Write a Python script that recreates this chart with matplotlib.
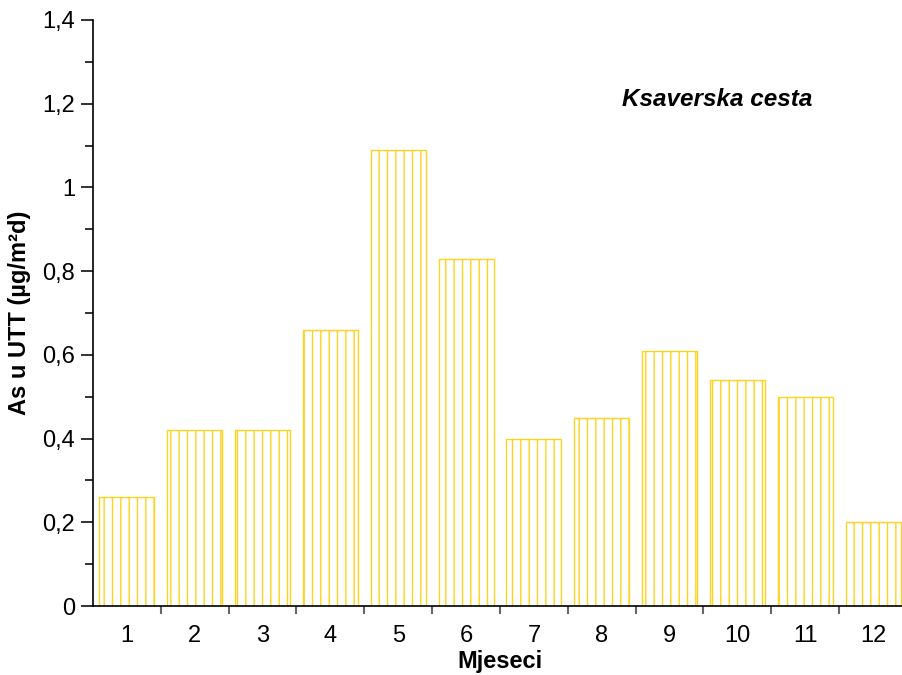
import matplotlib.pyplot as plt
from matplotlib.ticker import MultipleLocator, FixedLocator, FuncFormatter

plt.rcParams['font.family'] = ['Liberation Sans', 'DejaVu Sans']
plt.rcParams['hatch.linewidth'] = 1.0

months = [1, 2, 3, 4, 5, 6, 7, 8, 9, 10, 11, 12]
values = [0.26, 0.42, 0.42, 0.66, 1.09, 0.83, 0.40, 0.45, 0.61, 0.54, 0.50, 0.20]
y_ticks = [0, 0.2, 0.4, 0.6, 0.8, 1.0, 1.2, 1.4]

bar_color = '#FFD21F'

fig = plt.figure(figsize=(9.02, 6.75), dpi=100)
ax = fig.add_axes([0.1031, 0.1022, 0.9024, 0.8682])

ax.bar(months, values, width=0.81, color='white', edgecolor=bar_color,
       hatch='||', linewidth=1.0)

ax.set_xlim(0.5, 12.5)
ax.set_ylim(0, 1.4)

ax.spines['top'].set_visible(False)
ax.spines['right'].set_visible(False)
ax.spines['left'].set_linewidth(1.2)
ax.spines['bottom'].set_linewidth(1.2)

# y axis: comma decimals
def fmt(v, pos):
    s = ('%.1f' % v).rstrip('0').rstrip('.')
    return s.replace('.', ',')

ax.yaxis.set_major_locator(FixedLocator(y_ticks))
ax.yaxis.set_minor_locator(MultipleLocator(0.1))
ax.yaxis.set_major_formatter(FuncFormatter(fmt))
ax.tick_params(axis='y', which='major', length=9, width=1.3, color='#222222',
               labelsize=17, pad=4)
ax.tick_params(axis='y', which='minor', length=6, width=1.3, color='#222222')

# x axis: labels at centres, ticks between categories
ax.xaxis.set_major_locator(FixedLocator(months))
ax.xaxis.set_minor_locator(FixedLocator([m + 0.5 for m in months[:-1]]))
ax.tick_params(axis='x', which='major', length=0, labelsize=17, pad=14)
ax.tick_params(axis='x', which='minor', length=6, width=1.5, color='#666666')

ax.set_xlabel('Mjeseci', fontsize=17, fontweight='bold', labelpad=2)
ax.set_ylabel('As u UTT (µg/m²d)', fontsize=17, fontweight='bold', labelpad=8)

ax.text(0.767, 0.865, 'Ksaverska cesta', transform=ax.transAxes,
        fontsize=17.5, fontweight='bold', fontstyle='italic', ha='center', va='center')

fig.savefig('out.png', dpi=100)
